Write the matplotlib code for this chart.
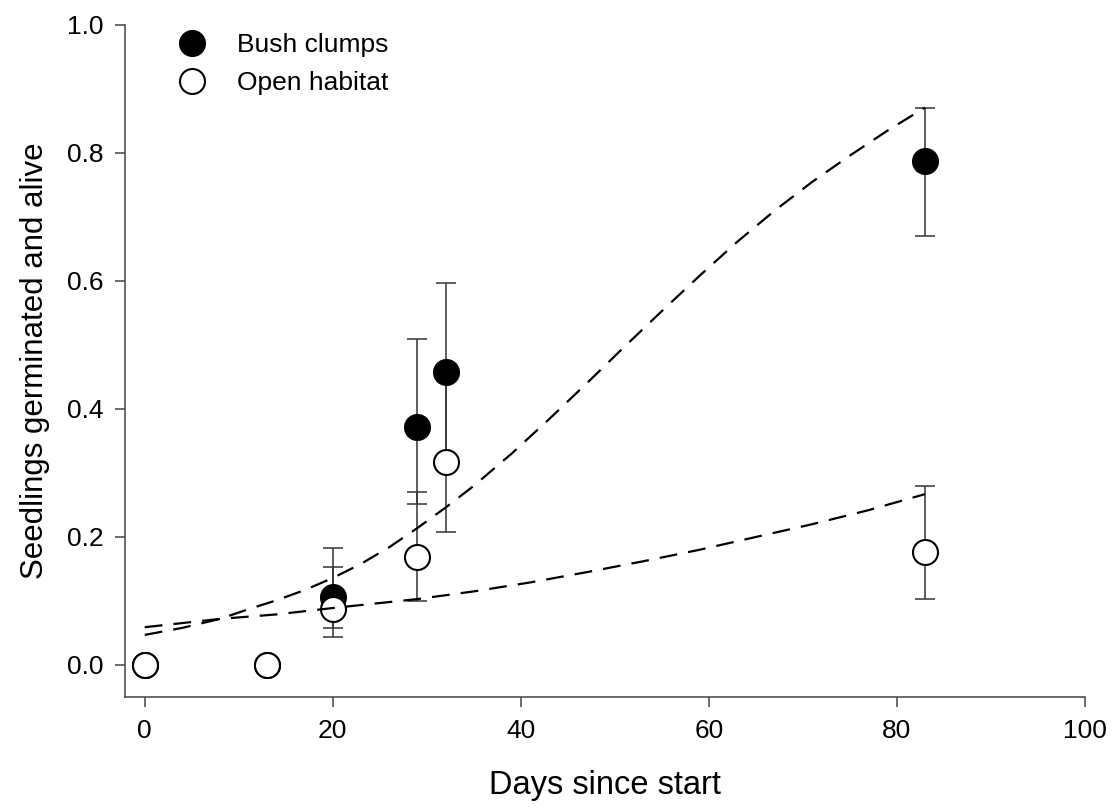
import matplotlib
matplotlib.use("Agg")
import matplotlib.pyplot as plt
from matplotlib.lines import Line2D

plt.rcParams['font.family'] = ['Liberation Sans', 'DejaVu Sans']

# --- Observed means with asymmetric error limits ---
days = [0, 13, 20, 29, 32, 83]

bush_mean = [0.0, 0.0, 0.106, 0.372, 0.458, 0.787]
bush_low = [0.0, 0.0, 0.058, 0.252, 0.318, 0.671]
bush_high = [0.0, 0.0, 0.182, 0.509, 0.597, 0.871]

open_mean = [0.0, 0.0, 0.087, 0.168, 0.317, 0.176]
open_low = [0.0, 0.0, 0.044, 0.100, 0.207, 0.103]
open_high = [0.0, 0.0, 0.153, 0.270, 0.455, 0.280]

# --- Fitted curves ---
bush_fit_days = [0, 4, 8, 11, 14, 17, 20, 23, 26, 29, 32, 35, 39, 43, 47,
                 51, 55, 59, 63, 67, 71, 75, 79, 83]
bush_fit = [0.047, 0.058, 0.072, 0.087, 0.101, 0.117, 0.136, 0.158, 0.184,
            0.214, 0.246, 0.280, 0.330, 0.384, 0.440, 0.497, 0.553, 0.608,
            0.661, 0.710, 0.755, 0.796, 0.835, 0.871]

open_fit_days = [0, 8, 14, 20, 29, 35, 41, 47, 53, 59, 65, 71, 77, 83]
open_fit = [0.059, 0.072, 0.079, 0.089, 0.103, 0.115, 0.129, 0.145, 0.162,
            0.180, 0.200, 0.220, 0.242, 0.267]

x_ticks = [0, 20, 40, 60, 80, 100]
y_ticks = [0.0, 0.2, 0.4, 0.6, 0.8, 1.0]


def err(mean, low, high):
    return [[m - l for m, l in zip(mean, low)],
            [h - m for m, h in zip(mean, high)]]


fig = plt.figure(figsize=(11.15, 8.08), dpi=100)
ax = fig.add_axes([0.1121, 0.1374, 0.8610, 0.8317])

bar_kw = dict(fmt='none', ecolor='#333333', elinewidth=1.1, capsize=7.2,
              capthick=1.1, zorder=2)
ax.errorbar(days, bush_mean, yerr=err(bush_mean, bush_low, bush_high), **bar_kw)
ax.errorbar(days, open_mean, yerr=err(open_mean, open_low, open_high), **bar_kw)

ax.plot(days, bush_mean, 'o', ms=18, mfc='black', mec='black', mew=1.5,
        zorder=3)
ax.plot(days, open_mean, 'o', ms=18, mfc='white', mec='black', mew=1.5,
        zorder=4)

dash_kw = dict(color='black', lw=1.6, dashes=(8, 5), zorder=5)
ax.plot(bush_fit_days, bush_fit, **dash_kw)
ax.plot(open_fit_days, open_fit, **dash_kw)

ax.set_xlim(-2.1, 100)
ax.set_ylim(-0.05, 1.0)
ax.set_xticks(x_ticks)
ax.set_xticklabels([str(t) for t in x_ticks])
ax.set_yticks(y_ticks)
ax.set_yticklabels([f"{t:.1f}" for t in y_ticks])

for side in ['top', 'right']:
    ax.spines[side].set_visible(False)
for side in ['left', 'bottom']:
    ax.spines[side].set_color('#444444')
    ax.spines[side].set_linewidth(1.1)

ax.tick_params(direction='out', length=7.5, width=1.1, color='#444444',
               labelsize=19, pad=8)
ax.set_xlabel("Days since start", fontsize=23.5, labelpad=20)
ax.set_ylabel("Seedlings germinated and alive", fontsize=22.5, labelpad=12)

handles = [
    Line2D([], [], ls='none', marker='o', ms=18, mfc='black', mec='black', mew=1.5),
    Line2D([], [], ls='none', marker='o', ms=18, mfc='white', mec='black', mew=1.5),
]
ax.legend(handles, ["Bush clumps", "Open habitat"], loc='upper left',
          bbox_to_anchor=(0.051, 0.988), frameon=False, fontsize=19,
          borderpad=0, borderaxespad=0, handlelength=1.4, handletextpad=1.0,
          labelspacing=0.54, numpoints=1)

fig.savefig("out.png", dpi=100)
